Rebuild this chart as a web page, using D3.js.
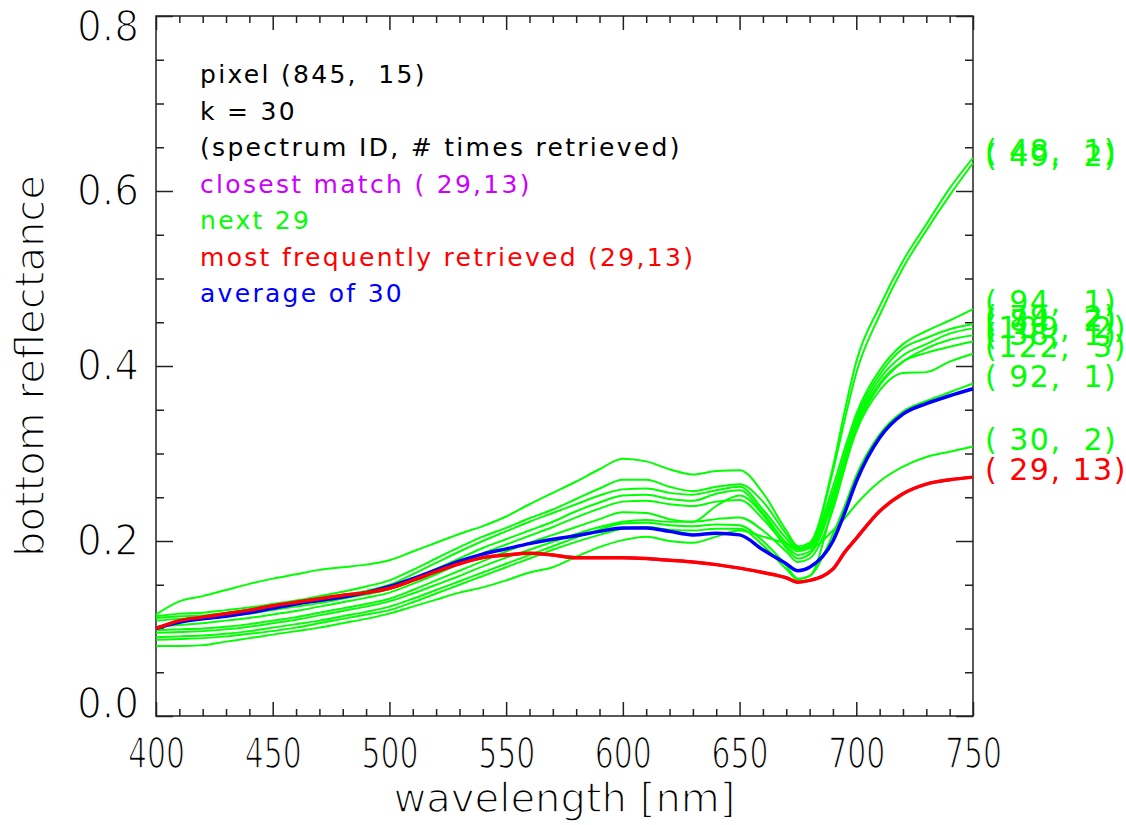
<!DOCTYPE html>
<html><head><meta charset="utf-8">
<script src="https://cdn.jsdelivr.net/npm/d3@7"></script>
<style>
body{margin:0;background:#fff;}
svg text{font-family:"DejaVu Sans",sans-serif;}
</style></head><body>
<svg id="chart" width="1126" height="825"></svg>
<script>
// ---------------- data ----------------
const wavelengths = [400,410,420,430,440,450,460,470,480,490,500,510,520,530,540,550,560,570,580,590,600,610,620,630,640,650,660,670,675,680,690,695,700,710,720,730,740,750];

const s29 = [.100,.109,.113,.117,.121,.126,.130,.134,.138,.141,.146,.155,.165,.174,.181,.184,.186,.184,.181,.181,.181,.180,.178,.176,.173,.169,.164,.158,.153,.155,.168,.187,.203,.234,.254,.265,.270,.273];
const average = [.100,.107,.111,.114,.118,.123,.128,.132,.136,.141,.148,.157,.167,.177,.185,.191,.197,.202,.206,.211,.215,.215,.211,.207,.209,.207,.190,.174,.166,.170,.200,.232,.268,.318,.345,.357,.366,.374];

const s48 = [.116,.131,.137,.144,.151,.157,.162,.167,.170,.173,.178,.188,.198,.208,.217,.228,.242,.255,.268,.282,.294,.291,.282,.276,.280,.281,.255,.212,.194,.198,.285,.348,.405,.468,.520,.562,.603,.638];
const s49 = [.114,.117,.118,.121,.124,.128,.132,.137,.142,.148,.155,.167,.180,.193,.205,.215,.226,.236,.248,.260,.270,.270,.262,.257,.262,.265,.245,.208,.192,.196,.280,.338,.392,.458,.512,.555,.595,.632];
const s94 = [.112,.114,.115,.118,.121,.125,.129,.133,.138,.143,.150,.162,.175,.188,.200,.211,.222,.232,.242,.252,.259,.260,.255,.253,.258,.262,.236,.203,.190,.194,.262,.305,.345,.395,.425,.440,.452,.465];
const s79 = [.109,.111,.112,.114,.117,.121,.125,.129,.134,.139,.145,.156,.168,.180,.192,.202,.212,.222,.234,.244,.252,.253,.248,.246,.254,.258,.232,.198,.188,.192,.255,.298,.340,.390,.420,.432,.442,.448];
const s84 = [.102,.104,.106,.109,.112,.116,.120,.125,.130,.135,.141,.151,.162,.174,.186,.196,.206,.216,.227,.237,.245,.246,.242,.240,.245,.247,.225,.195,.184,.188,.250,.292,.335,.385,.412,.425,.437,.443];
const s109 = [.098,.099,.100,.102,.105,.109,.113,.118,.123,.128,.134,.144,.155,.166,.177,.188,.198,.207,.216,.225,.233,.232,.225,.222,.240,.252,.230,.192,.180,.185,.245,.288,.328,.378,.405,.420,.430,.435];
const s38 = [.095,.096,.097,.099,.102,.106,.110,.115,.120,.125,.131,.140,.150,.160,.171,.181,.190,.199,.208,.216,.222,.224,.222,.222,.225,.227,.212,.188,.176,.180,.236,.283,.330,.380,.405,.415,.422,.428];
const s122 = [.090,.091,.092,.094,.097,.101,.105,.109,.114,.119,.125,.134,.144,.154,.164,.174,.184,.194,.204,.213,.220,.221,.218,.217,.219,.218,.200,.172,.157,.160,.240,.285,.325,.372,.392,.393,.405,.414];
const s92 = [.087,.088,.089,.091,.094,.097,.101,.106,.111,.116,.121,.130,.140,.150,.160,.170,.180,.190,.199,.207,.214,.216,.213,.212,.214,.214,.195,.168,.156,.160,.208,.240,.275,.322,.348,.360,.370,.380];
const s30 = [.080,.080,.081,.085,.089,.093,.097,.101,.106,.111,.117,.125,.133,.141,.147,.155,.164,.170,.182,.193,.201,.205,.200,.198,.205,.212,.205,.197,.192,.192,.212,.226,.242,.268,.285,.296,.302,.308];

const greenSeries = [s48, s49, s94, s79, s84, s109, s38, s122, s92, s30];
const greenIds    = [48, 49, 94, 79, 84, 109, 38, 122, 92, 30];
const greenCounts = [1, 2, 1, 2, 2, 2, 1, 3, 1, 2];
const bestId = 29, bestCount = 13;

const legendLines = ["pixel (845,  15)", "k = 30", "(spectrum ID, # times retrieved)",
  "closest match ( 29,13)", "next 29", "most frequently retrieved (29,13)", "average of 30"];
const legendColors = ["#000","#000","#000","#cc00ff","#00ff00","#ff0000","#0000ff"];

const yTickValues = [0, 0.2, 0.4, 0.6, 0.8];
const yTickLabels = ["0.0","0.2","0.4","0.6","0.8"];
const yMinorTicks = [0.05,0.1,0.15,0.25,0.3,0.35,0.45,0.5,0.55,0.65,0.7,0.75];
const xTickValues = [400,450,500,550,600,650,700,750];
const xMinorTicks = [410,420,430,440,460,470,480,490,510,520,530,540,560,570,580,590,610,620,630,640,660,670,680,690,710,720,730,740];

// ---------------- layout ----------------
const L = 156, R = 973, T = 16, B = 716;
const svg = d3.select("#chart");
const x = d3.scaleLinear().domain([400, 750]).range([L, R]);
const y = d3.scaleLinear().domain([0, 0.8]).range([B, T]);

svg.append("rect").attr("x", L).attr("y", T).attr("width", R - L).attr("height", B - T)
  .attr("fill", "none").attr("stroke", "#222").attr("stroke-width", 1.5);

function axisGroup(axis, tx, ty) {
  const g = svg.append("g").attr("transform", `translate(${tx},${ty})`).call(axis);
  g.select(".domain").remove();
  g.selectAll("line").attr("stroke", "#222").attr("stroke-width", 1.5);
  return g;
}
function thin(sel, w) {
  sel.attr("stroke", "#fff").attr("stroke-width", w).attr("stroke-linejoin", "round");
}
const xb = axisGroup(d3.axisBottom(x).tickValues(xTickValues).tickSize(-14).tickPadding(22).tickFormat(d3.format("d")), 0, B);
xb.selectAll("text").attr("font-size", 42).attr("fill", "#000")
  .attr("textLength", 57).attr("lengthAdjust", "spacingAndGlyphs").call(thin, 1.6);
axisGroup(d3.axisBottom(x).tickValues(xMinorTicks).tickSize(-7).tickFormat(""), 0, B);
axisGroup(d3.axisTop(x).tickValues(xTickValues).tickSize(-14).tickFormat(""), 0, T);
axisGroup(d3.axisTop(x).tickValues(xMinorTicks).tickSize(-7).tickFormat(""), 0, T);

const yl = axisGroup(d3.axisLeft(y).tickValues(yTickValues).tickSize(-17).tickPadding(17)
  .tickFormat((d, i) => yTickLabels[i]), L, 0);
yl.selectAll("text").attr("font-size", 42).attr("fill", "#000")
  .attr("textLength", 62).attr("lengthAdjust", "spacingAndGlyphs").call(thin, 1.6)
  .attr("y", d => d === 0 ? -12 : (d === 0.8 ? 11 : 0));
axisGroup(d3.axisLeft(y).tickValues(yMinorTicks).tickSize(-8).tickFormat(""), L, 0);
axisGroup(d3.axisRight(y).tickValues(yTickValues).tickSize(-17).tickFormat(""), R, 0);
axisGroup(d3.axisRight(y).tickValues(yMinorTicks).tickSize(-8).tickFormat(""), R, 0);

svg.append("text").attr("x", (L + R) / 2).attr("y", 812).attr("text-anchor", "middle")
  .attr("font-size", 40).attr("textLength", 342).attr("lengthAdjust", "spacingAndGlyphs")
  .call(thin, 1.5).text("wavelength [nm]");
svg.append("text").attr("transform", `translate(44,${(T + B) / 2}) rotate(-90)`)
  .attr("text-anchor", "middle").attr("font-size", 40)
  .attr("textLength", 382).attr("lengthAdjust", "spacingAndGlyphs")
  .call(thin, 1.5).text("bottom reflectance");

// curves
const line = d3.line().x((d, i) => x(wavelengths[i])).y(d => y(d)).curve(d3.curveMonotoneX);
const plot = svg.append("g");
greenSeries.forEach(s => plot.append("path").attr("d", line(s)).attr("fill", "none")
  .attr("stroke", "#00ff00").attr("stroke-width", 2).attr("stroke-linejoin", "round"));
plot.append("path").attr("d", line(s29)).attr("fill", "none").attr("stroke", "#cc00ff").attr("stroke-width", 3);
plot.append("path").attr("d", line(average)).attr("fill", "none").attr("stroke", "#0000ff")
  .attr("stroke-width", 3.5).attr("stroke-linejoin", "round");
plot.append("path").attr("d", line(s29)).attr("fill", "none").attr("stroke", "#ff0000")
  .attr("stroke-width", 3.5).attr("stroke-linejoin", "round");

// right-hand labels
const pad3 = n => String(n).padStart(3, " ");
const lab = (id, c) => "(" + pad3(id) + "," + pad3(c) + ")";
const labG = svg.append("g").attr("font-size", 30).attr("letter-spacing", 1.5)
  .style("white-space", "pre");
greenSeries.forEach((s, i) => {
  labG.append("text").attr("x", x(750) + 12).attr("y", y(s[s.length - 1]) + 3)
    .attr("fill", "#00ff00").attr("xml:space", "preserve").text(lab(greenIds[i], greenCounts[i]));
});
labG.append("text").attr("x", x(750) + 12).attr("y", y(s29[s29.length - 1]) + 3)
  .attr("fill", "#ff0000").attr("xml:space", "preserve").text(lab(bestId, bestCount));

// legend text
const legG = svg.append("g").attr("font-size", 25).attr("letter-spacing", 2.3).style("white-space", "pre");
legendLines.forEach((t, i) => {
  legG.append("text").attr("x", 200).attr("y", 83 + i * 36.5).attr("fill", legendColors[i])
    .attr("xml:space", "preserve").text(t);
});
</script>
</body></html>
